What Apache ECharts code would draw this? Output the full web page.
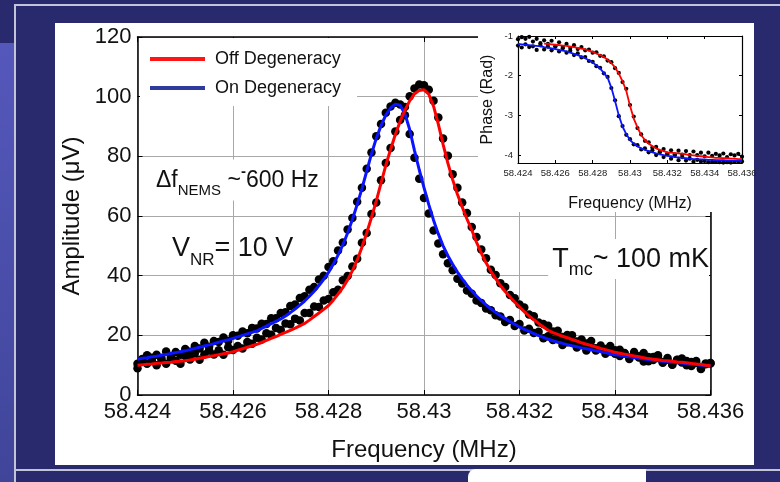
<!DOCTYPE html>
<html><head><meta charset="utf-8">
<script src="https://cdn.jsdelivr.net/npm/echarts@6.0.0/dist/echarts.min.js"></script>
<style>
html,body{margin:0;padding:0;width:780px;height:482px;overflow:hidden;background:#292a6e;}
.a{position:absolute}
</style></head><body>
<div class="a" style="left:0;top:43px;width:14px;height:439px;background:linear-gradient(#5558bb,#40459a)"></div>
<div class="a" style="left:14px;top:4px;width:2px;height:478px;background:#c3c4d8"></div>
<div class="a" style="left:14px;top:4px;width:766px;height:2px;background:#c3c4d8"></div>
<div class="a" style="left:14px;top:469px;width:766px;height:2px;background:#c3c4d8"></div>
<div class="a" style="left:468px;top:469px;width:178px;height:13px;background:#fff;border-top-left-radius:8px"></div>
<div class="a" style="left:55px;top:23px;width:699px;height:442px;background:#fff"></div>
<div id="chart" class="a" style="left:0;top:0;width:780px;height:482px"></div>
<script>
// ---------- main panel: amplitude vs frequency ----------
const scanFreq = [
58.4240,58.4241,58.4242,58.4243,58.4244,58.4245,58.4246,58.4247,58.4248,58.4249,
58.4250,58.4251,58.4252,58.4253,58.4254,58.4255,58.4256,58.4257,58.4258,58.4259,
58.4260,58.4261,58.4262,58.4263,58.4264,58.4265,58.4266,58.4267,58.4268,58.4269,
58.4270,58.4271,58.4272,58.4273,58.4274,58.4275,58.4276,58.4277,58.4278,58.4279,
58.4280,58.4281,58.4282,58.4283,58.4284,58.4285,58.4286,58.4287,58.4288,58.4289,
58.4290,58.4291,58.4292,58.4293,58.4294,58.4295,58.4296,58.4297,58.4298,58.4299,
58.4300,58.4301,58.4302,58.4303,58.4304,58.4305,58.4306,58.4307,58.4308,58.4309,
58.4310,58.4311,58.4312,58.4313,58.4314,58.4315,58.4316,58.4317,58.4318,58.4319,
58.4320,58.4321,58.4322,58.4323,58.4324,58.4325,58.4326,58.4327,58.4328,58.4329,
58.4330,58.4331,58.4332,58.4333,58.4334,58.4335,58.4336,58.4337,58.4338,58.4339,
58.4340,58.4341,58.4342,58.4343,58.4344,58.4345,58.4346,58.4347,58.4348,58.4349,
58.4350,58.4351,58.4352,58.4353,58.4354,58.4355,58.4356,58.4357,58.4358,58.4359,
58.4360];
const offFit = [
10.0,10.1,10.3,10.4,10.6,10.7,10.9,11.0,11.2,11.3,
11.5,11.7,12.0,12.3,12.6,12.9,13.2,13.5,13.8,14.1,
14.5,15.0,15.5,16.0,16.5,17.0,17.6,18.3,19.0,19.6,
20.3,21.0,21.7,22.4,23.2,24.0,25.1,26.3,27.5,28.7,
30.0,31.8,33.8,36.0,38.6,41.6,45.2,49.5,54.3,59.5,
65.0,71.0,77.0,82.3,87.3,91.7,95.5,98.6,100.9,102.1,
102.3,100.8,96.8,90.8,84.0,77.7,72.2,67.3,63.0,59.0,
55.3,51.2,47.6,44.3,41.5,39.0,36.7,34.7,32.9,31.1,
29.5,27.9,26.5,25.2,24.0,22.8,21.7,20.9,20.3,19.7,
19.2,18.6,18.1,17.5,17.0,16.6,16.1,15.6,15.2,14.8,
14.3,14.0,13.7,13.4,13.1,12.8,12.5,12.2,12.0,11.8,
11.6,11.5,11.3,11.1,11.0,10.8,10.6,10.4,10.2,10.0,
9.8];
const onFit = [
12.0,12.3,12.5,12.8,13.0,13.3,13.6,13.9,14.2,14.5,
14.8,15.2,15.6,16.0,16.4,16.8,17.2,17.7,18.1,18.5,
19.0,19.5,20.0,20.5,21.0,21.5,22.3,23.1,23.9,24.7,
25.5,26.5,27.6,28.8,30.1,31.5,33.1,34.8,36.7,38.8,
41.1,43.8,46.9,50.3,54.3,58.8,63.8,69.2,75.0,80.8,
86.0,90.3,93.8,96.2,97.5,97.1,94.3,89.0,82.0,75.5,
69.5,63.8,58.6,54.0,50.0,46.7,43.8,41.2,38.9,36.8,
34.9,33.2,31.6,30.2,28.9,27.7,26.6,25.6,24.6,23.7,
22.8,22.0,21.3,20.6,19.9,19.3,18.7,18.2,17.7,17.3,
16.9,16.5,16.2,15.8,15.5,15.2,14.8,14.5,14.2,13.8,
13.5,13.3,13.0,12.8,12.5,12.3,12.1,11.9,11.6,11.5,
11.3,11.1,11.0,10.8,10.7,10.5,10.3,10.2,10.0,9.9,
9.7];
const offData = [
9.0,11.6,10.5,12.5,10.0,11.9,10.5,12.8,11.5,10.5,
13.1,11.9,13.9,11.8,13.6,14.9,13.6,15.0,13.5,16.0,
15.1,16.4,15.6,17.8,17.2,19.2,18.6,20.7,20.2,22.5,
21.8,24.0,23.7,25.6,25.0,27.5,27.5,29.7,29.5,31.7,
32.2,34.4,35.3,38.5,39.9,43.1,45.7,51.0,54.3,60.7,
64.5,72.0,77.8,82.8,88.3,92.2,96.5,100.1,102.7,104.1,
103.8,102.3,98.6,93.0,86.0,80.2,74.0,69.5,64.5,61.0,
56.3,53.0,48.8,45.8,42.0,40.2,37.5,36.2,33.5,32.4,
30.3,29.3,27.0,26.4,24.3,23.8,23.2,21.3,21.5,19.4,
20.1,20.0,17.9,18.6,17.3,18.1,15.7,16.6,15.4,16.4,
13.8,15.2,14.1,12.6,14.4,13.0,14.1,11.3,12.7,13.3,
11.0,12.4,10.1,11.7,12.2,10.0,11.1,11.4,8.7,10.6,
10.6];
const onData = [
10.5,12.1,13.3,11.5,13.5,12.4,14.6,12.3,14.4,13.5,
15.4,14.5,16.4,15.6,17.5,16.2,18.1,17.8,19.3,18.2,
20.0,19.9,21.3,20.7,22.5,22.3,23.9,23.8,25.7,25.7,
27.5,27.7,29.8,30.3,32.5,33.1,35.3,36.2,38.7,40.0,
42.9,44.8,48.4,51.1,55.5,59.3,64.8,69.5,75.8,81.3,
86.7,90.8,94.6,96.7,98.0,97.4,93.8,87.5,79.5,72.5,
66.0,60.8,55.1,50.8,47.2,44.2,41.8,39.0,37.4,35.0,
33.9,31.7,30.8,29.0,28.4,26.7,26.3,24.5,25.1,23.1,
23.8,21.6,22.2,20.8,21.2,19.0,19.7,18.4,19.1,16.8,
17.7,17.7,15.9,16.8,14.9,16.1,14.9,15.8,13.8,14.6,
15.0,13.1,13.9,12.1,13.6,12.6,11.2,12.7,11.7,12.7,
10.8,11.8,10.2,11.8,10.9,11.4,9.7,10.7,8.8,10.3,
10.7];

// ---------- inset: phase vs frequency ----------
const phaseFreq = [
58.4240,58.4242,58.4244,58.4246,58.4248,58.4250,58.4252,58.4254,58.4256,58.4258,
58.4260,58.4262,58.4264,58.4266,58.4268,58.4270,58.4272,58.4274,58.4276,58.4278,
58.4280,58.4282,58.4284,58.4286,58.4288,58.4290,58.4292,58.4294,58.4296,58.4298,
58.4300,58.4302,58.4304,58.4306,58.4308,58.4310,58.4312,58.4314,58.4316,58.4318,
58.4320,58.4322,58.4324,58.4326,58.4328,58.4330,58.4332,58.4334,58.4336,58.4338,
58.4340,58.4342,58.4344,58.4346,58.4348,58.4350,58.4352,58.4354,58.4356,58.4358,
58.4360];
const onPhaseFit = [
-1.20,-1.21,-1.22,-1.23,-1.24,-1.25,-1.26,-1.28,-1.29,-1.31,
-1.33,-1.35,-1.37,-1.39,-1.42,-1.45,-1.48,-1.52,-1.56,-1.61,
-1.67,-1.74,-1.82,-1.93,-2.05,-2.30,-2.64,-3.00,-3.28,-3.47,
-3.62,-3.71,-3.78,-3.83,-3.87,-3.90,-3.93,-3.96,-3.98,-4.00,
-4.02,-4.03,-4.05,-4.06,-4.07,-4.08,-4.09,-4.10,-4.10,-4.11,
-4.11,-4.12,-4.12,-4.13,-4.13,-4.13,-4.14,-4.14,-4.14,-4.14,
-4.15];
const offPhaseFit = [
null,null,null,null,null,null,null,-1.19,-1.20,-1.21,
-1.22,-1.23,-1.24,-1.25,-1.27,-1.28,-1.30,-1.32,-1.34,-1.37,
-1.40,-1.44,-1.48,-1.53,-1.60,-1.68,-1.79,-1.95,-2.14,-2.38,
-2.76,-3.08,-3.30,-3.50,-3.62,-3.71,-3.78,-3.83,-3.87,-3.90,
-3.93,-3.94,-3.95,-3.96,-3.97,-3.98,-4.00,-4.01,-4.02,-4.03,
-4.04,-4.05,-4.06,-4.07,-4.07,-4.08,-4.08,-4.09,-4.09,-4.10,
-4.10];
const onPhaseData = [
-1.08,-1.29,-1.07,-1.28,-1.14,-1.35,-1.18,-1.34,-1.20,-1.36,
-1.26,-1.39,-1.31,-1.42,-1.37,-1.48,-1.44,-1.54,-1.53,-1.63,
-1.65,-1.76,-1.80,-1.94,-2.03,-2.31,-2.62,-3.02,-3.27,-3.49,
-3.60,-3.73,-3.75,-3.86,-3.83,-3.93,-3.88,-4.00,-3.93,-4.05,
-3.96,-4.09,-3.98,-4.13,-3.99,-4.14,-4.00,-4.17,-4.00,-4.16,
-4.03,-4.18,-4.02,-4.17,-4.01,-4.19,-4.05,-4.19,-4.01,-4.17,
-4.04];
const offPhaseData = [
-1.24,-1.03,-1.21,-1.02,-1.26,-1.07,-1.23,-1.11,-1.27,-1.12,
-1.27,-1.16,-1.28,-1.20,-1.30,-1.23,-1.33,-1.28,-1.36,-1.34,
-1.42,-1.41,-1.50,-1.51,-1.62,-1.66,-1.81,-1.93,-2.16,-2.33,
-2.74,-3.03,-3.32,-3.48,-3.64,-3.68,-3.81,-3.79,-3.91,-3.85,
-3.98,-3.88,-4.01,-3.89,-4.05,-3.90,-4.09,-3.91,-4.12,-3.94,
-4.15,-3.94,-4.17,-3.97,-4.18,-3.96,-4.18,-3.98,-4.17,-3.97,
-4.16];
const phaseTicks = [-4, -3, -2, -1];

const F = '"Liberation Sans", Arial, Helvetica, sans-serif';
const pairs = (xs, ys) => xs.map((x, i) => [x, ys[i]]);

const chart = echarts.init(document.getElementById('chart'), null, {renderer: 'canvas'});

function mainX(pos, showLabel) {
  return {
    gridIndex: 0, type: 'value', position: pos, min: 58.424, max: 58.436, interval: 0.002, z: 1,
    axisLine: {show: true, onZero: false, lineStyle: {color: '#000', width: 1.5}},
    axisTick: {show: true, inside: true, length: 5, lineStyle: {color: '#000', width: 1}},
    axisLabel: {show: showLabel, color: '#111', fontSize: 22, fontFamily: F, margin: 6},
    splitLine: {show: showLabel, lineStyle: {color: '#a8a8a8', width: 1}}
  };
}
function mainY(pos, showLabel) {
  return {
    gridIndex: 0, type: 'value', position: pos, min: 0, max: 120, interval: 20, z: 1,
    axisLine: {show: true, onZero: false, lineStyle: {color: '#000', width: 1.5}},
    axisTick: {show: true, inside: true, length: 5, lineStyle: {color: '#000', width: 1}},
    axisLabel: {show: showLabel, color: '#111', fontSize: 22, fontFamily: F, margin: 6},
    splitLine: {show: showLabel, lineStyle: {color: '#a8a8a8', width: 1}}
  };
}
function insetX(pos, showLabel) {
  return {
    gridIndex: 1, type: 'value', position: pos, min: 58.424, max: 58.436, interval: 0.002, z: 6,
    axisLine: {show: true, onZero: false, lineStyle: {color: '#000', width: 1.2}},
    axisTick: {show: true, inside: true, length: 3, lineStyle: {color: '#000', width: 1}},
    axisLabel: {show: showLabel, color: '#222', fontSize: 9.5, fontFamily: F, margin: 5},
    splitLine: {show: false}
  };
}
function insetY(pos, showLabel) {
  return {
    gridIndex: 1, type: 'value', position: pos, min: -4.2, max: -1, z: 6,
    axisLine: {show: true, onZero: false, lineStyle: {color: '#000', width: 1.2}},
    axisTick: {show: true, inside: true, length: 3, customValues: phaseTicks, lineStyle: {color: '#000', width: 1}},
    axisLabel: {show: showLabel, color: '#222', fontSize: 9.5, fontFamily: F, margin: 5, customValues: phaseTicks},
    splitLine: {show: false}
  };
}

const xMainB = mainX('bottom', true);
xMainB.name = 'Frequency (MHz)';
xMainB.nameLocation = 'middle';
xMainB.nameGap = 43;
xMainB.nameTextStyle = {fontSize: 24, color: '#111', fontFamily: F};
const yMainL = mainY('left', true);
yMainL.name = 'Amplitude (\u03BCV)';
yMainL.nameLocation = 'middle';
yMainL.nameGap = 48;
yMainL.nameTextStyle = {fontSize: 24, color: '#111', fontFamily: F};
const xInB = insetX('bottom', true);
xInB.name = 'Frequency (MHz)';
xInB.nameLocation = 'middle';
xInB.nameGap = 33;
xInB.nameTextStyle = {fontSize: 16, color: '#111', fontFamily: F};
const yInL = insetY('left', true);
yInL.name = 'Phase (Rad)';
yInL.nameLocation = 'middle';
yInL.nameGap = 22;
yInL.nameTextStyle = {fontSize: 16, color: '#111', fontFamily: F};

const sub = {fontSize: 15, fontFamily: F, fill: '#111', padding: [20, 0, 0, 0], verticalAlign: 'middle'};

chart.setOption({
  animation: false,
  backgroundColor: 'transparent',
  grid: [
    {left: 137.5, right: 69.5, top: 37, bottom: 87},
    {left: 518, right: 38, top: 36, bottom: 319}
  ],
  xAxis: [xMainB, mainX('top', false), xInB, insetX('top', false)],
  yAxis: [yMainL, mainY('right', false), yInL, insetY('right', false)],
  legend: {
    data: [
      {name: 'Off Degeneracy', itemStyle: {color: '#ff1515'}},
      {name: 'On Degeneracy', itemStyle: {color: '#2e3a9c'}}
    ],
    left: 140, top: 38, orient: 'vertical', icon: 'rect', itemWidth: 55, itemHeight: 4, itemGap: 9,
    padding: [11, 16, 8, 10], backgroundColor: '#fff', selectedMode: false, z: 4,
    textStyle: {fontSize: 18, color: '#111', fontFamily: F, padding: [0, 0, 0, 5], lineHeight: 20}
  },
  graphic: [
    {type: 'rect', shape: {x: 478, y: 24, width: 276, height: 188}, style: {fill: '#fff'}, z: 5, silent: true},
    {type: 'text', x: 152, y: 180, z: 10, silent: true, style: {
      text: '{m|\u0394f}{s|NEMS}{m| ~}{t|-}{m|600 Hz}', align: 'left', verticalAlign: 'middle',
      backgroundColor: '#fff', padding: [4, 8, 2, 4],
      rich: {
        m: {fontSize: 23, fontFamily: F, fill: '#111', verticalAlign: 'middle'},
        s: sub,
        t: {fontSize: 15, fontFamily: F, fill: '#111', fontWeight: 'bold', padding: [0, 0, 18, 0], verticalAlign: 'middle'}
      }}},
    {type: 'text', x: 172, y: 249, z: 10, silent: true, style: {
      text: '{m|V}{s|NR}{m|= 10 V}', align: 'left', verticalAlign: 'middle',
      rich: {
        m: {fontSize: 27, fontFamily: F, fill: '#111', verticalAlign: 'middle'},
        s: {fontSize: 17, fontFamily: F, fill: '#111', padding: [22, 0, 0, 0], verticalAlign: 'middle'}
      }}},
    {type: 'text', x: 709, y: 259, z: 10, silent: true, style: {
      text: '{m|T}{s|mc}{m|~ 100 mK}', align: 'right', verticalAlign: 'middle',
      backgroundColor: '#fff', padding: [2, 0, 0, 4],
      rich: {
        m: {fontSize: 27, fontFamily: F, fill: '#111', verticalAlign: 'middle'},
        s: {fontSize: 18, fontFamily: F, fill: '#111', padding: [20, 0, 0, 0], verticalAlign: 'middle'}
      }}}
  ],
  series: [
    {type: 'scatter', xAxisIndex: 0, yAxisIndex: 0, data: pairs(scanFreq, offData), symbolSize: 8.5,
      itemStyle: {color: '#000', opacity: 1}, z: 2, silent: true},
    {type: 'scatter', xAxisIndex: 0, yAxisIndex: 0, data: pairs(scanFreq, onData), symbolSize: 8.5,
      itemStyle: {color: '#000', opacity: 1}, z: 2, silent: true},
    {name: 'On Degeneracy', type: 'line', xAxisIndex: 0, yAxisIndex: 0, data: pairs(scanFreq, onFit),
      showSymbol: false, lineStyle: {color: '#0a14ff', width: 3}, itemStyle: {color: '#2e3a9c'}, z: 3, silent: true},
    {name: 'Off Degeneracy', type: 'line', xAxisIndex: 0, yAxisIndex: 0, data: pairs(scanFreq, offFit),
      showSymbol: false, lineStyle: {color: '#ff0000', width: 3}, itemStyle: {color: '#ff1515'}, z: 3, silent: true},
    {type: 'scatter', xAxisIndex: 2, yAxisIndex: 2, data: pairs(phaseFreq, offPhaseData), symbolSize: 4.2,
      itemStyle: {color: '#000', opacity: 1}, z: 7, silent: true},
    {type: 'scatter', xAxisIndex: 2, yAxisIndex: 2, data: pairs(phaseFreq, onPhaseData), symbolSize: 4.2,
      itemStyle: {color: '#000', opacity: 1}, z: 7, silent: true},
    {type: 'line', xAxisIndex: 2, yAxisIndex: 2, data: pairs(phaseFreq, onPhaseFit), showSymbol: false,
      lineStyle: {color: '#0a14ff', width: 1.8}, z: 8, silent: true},
    {type: 'line', xAxisIndex: 2, yAxisIndex: 2, data: pairs(phaseFreq, offPhaseFit), showSymbol: false,
      lineStyle: {color: '#ff0000', width: 1.8}, z: 8, silent: true}
  ]
});
</script>
</body></html>
